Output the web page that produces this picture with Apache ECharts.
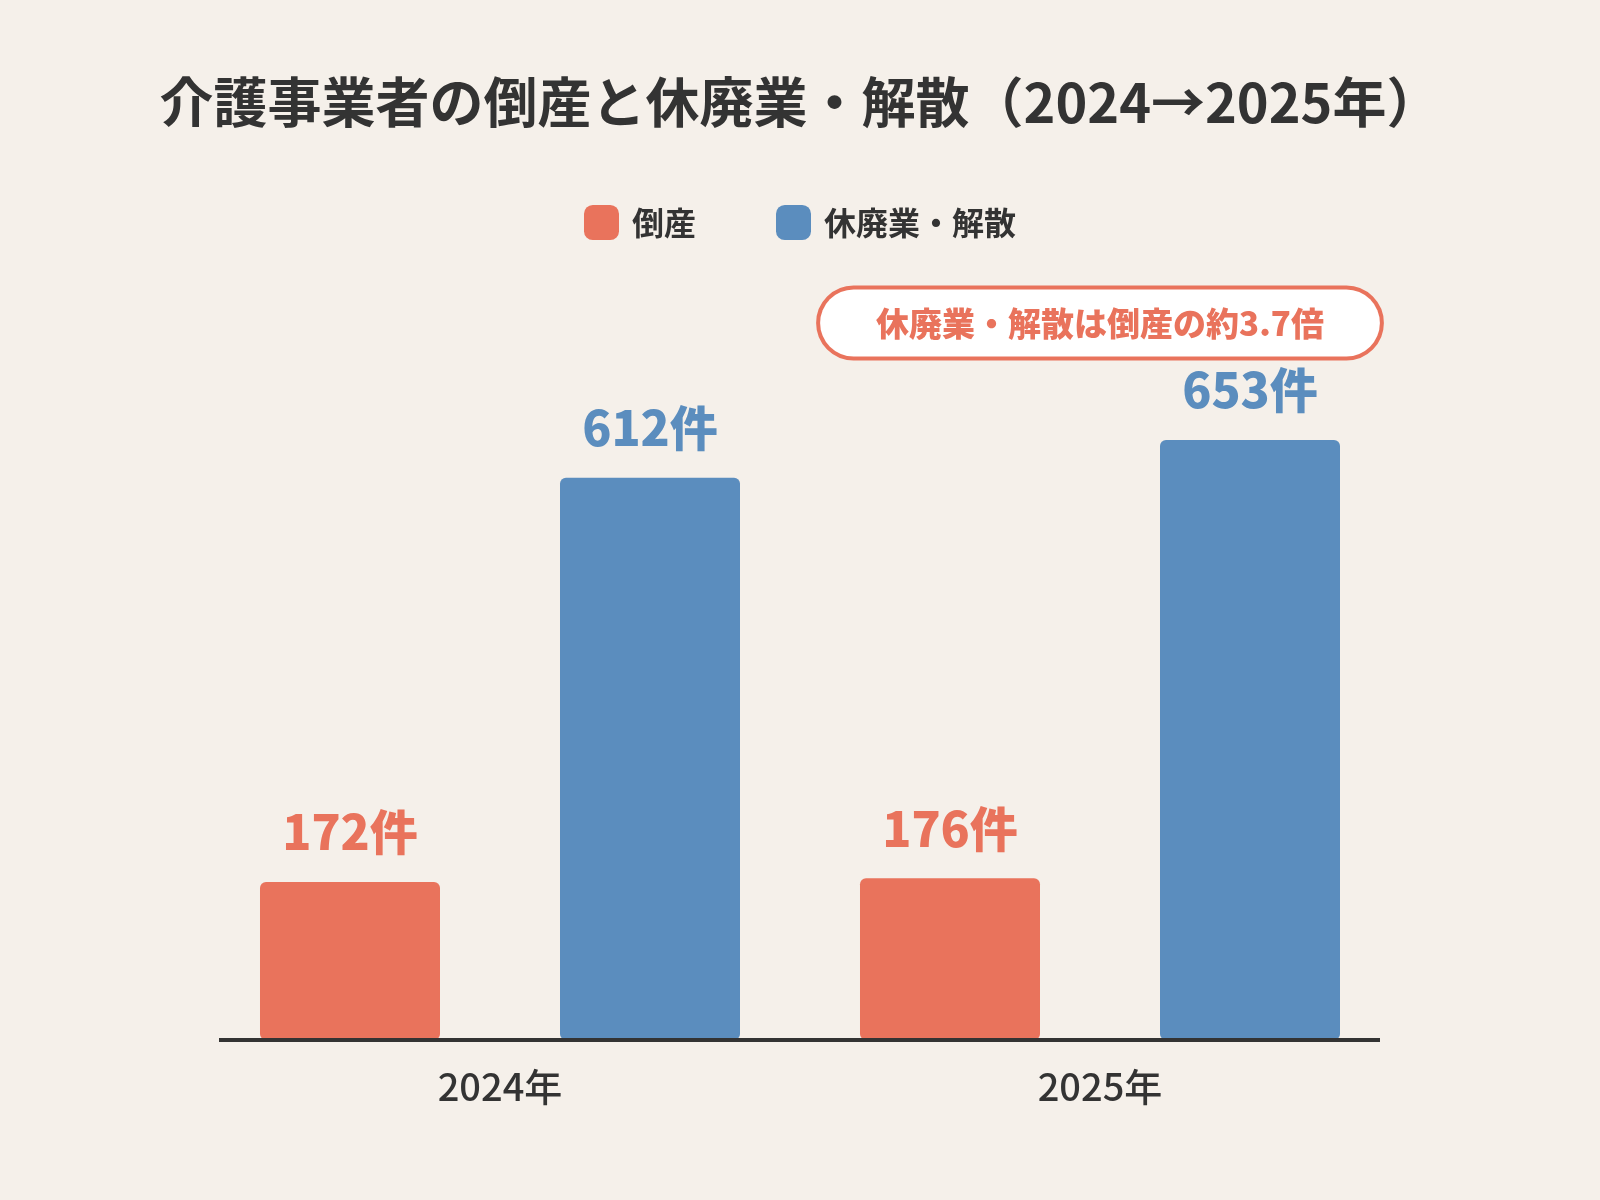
<!DOCTYPE html>
<html lang="ja">
<head>
    <meta charset="UTF-8"/>
    <script src="https://cdn.jsdelivr.net/npm/echarts@6/dist/echarts.min.js"></script>
    <title>介護事業者の倒産と休廃業・解散</title>
    <style>
        html, body { margin: 0; padding: 0; background: #F5F0EA; }
    </style>
</head>
<body>
<div id="main" style="width: 1600px;height:1200px;"></div>
<script type="text/javascript">
    // データ
    var years = ['2024年', '2025年'];
    var seriesNames = ['倒産', '休廃業・解散'];
    var bankruptcy = [172, 176];
    var closures = [612, 653];
    var calloutText = '休廃業・解散は倒産の約3.7倍';

    var RED = '#E9735C';
    var BLUE = '#5B8DBE';
    var FONT = '"Noto Sans CJK JP", "Noto Sans", sans-serif';

    var myChart = echarts.init(document.getElementById('main'));

    function labelOf(color) {
        return {
            show: true,
            position: 'top',
            distance: 26,
            formatter: '{c}件',
            color: color,
            fontSize: 48,
            fontWeight: 900,
            fontFamily: FONT
        };
    }

    var option = {
        backgroundColor: '#F5F0EA',
        title: {
            text: '介護事業者の倒産と休廃業・解散（2024→2025年）',
            left: 'center',
            top: 70,
            textStyle: {
                fontSize: 54,
                fontWeight: 'bold',
                color: '#333333',
                fontFamily: FONT
            }
        },
        legend: {
            data: seriesNames,
            top: 200,
            left: 'center',
            itemWidth: 35,
            itemHeight: 35,
            itemGap: 80,
            icon: 'roundRect',
            textStyle: {
                fontSize: 32,
                fontWeight: 'bold',
                color: '#333333',
                fontFamily: FONT,
                padding: [0, 0, 0, 8]
            }
        },
        grid: {
            left: 200,
            right: 200,
            top: 305,
            bottom: 160
        },
        xAxis: {
            type: 'category',
            data: years,
            axisLine: {show: false},
            axisTick: {show: false},
            axisLabel: {
                margin: 28,
                fontSize: 38,
                fontWeight: 500,
                color: '#333333',
                fontFamily: FONT
            }
        },
        yAxis: {
            type: 'value',
            min: 0,
            max: 800,
            show: false,
            splitLine: {show: false}
        },
        graphic: [
            {
                type: 'rect',
                shape: {x: 219, y: 1038, width: 1161, height: 4},
                style: {fill: '#333333'},
                z: 10
            },
            {
                type: 'text',
                x: 1100,
                y: 323,
                style: {
                    text: calloutText,
                    align: 'center',
                    verticalAlign: 'middle',
                    fill: RED,
                    font: '900 33px ' + FONT,
                    backgroundColor: '#FFFFFF',
                    borderColor: RED,
                    borderWidth: 4,
                    borderRadius: 40,
                    padding: [17, 56]
                }
            }
        ],
        series: [
            {
                name: seriesNames[0],
                type: 'bar',
                data: bankruptcy,
                barWidth: 180,
                barGap: '66.67%',
                itemStyle: {color: RED, borderRadius: 6},
                label: labelOf(RED)
            },
            {
                name: seriesNames[1],
                type: 'bar',
                data: closures,
                barWidth: 180,
                itemStyle: {color: BLUE, borderRadius: 6},
                label: labelOf(BLUE)
            }
        ]
    };

    myChart.setOption(option);
</script>
</body>
</html>
